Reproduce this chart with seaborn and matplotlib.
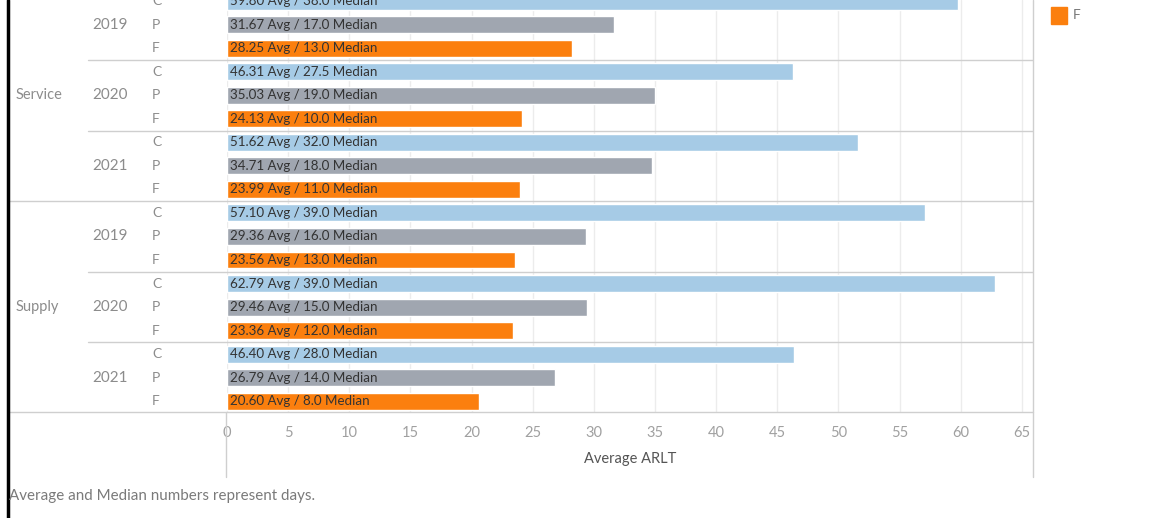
import matplotlib
matplotlib.use('Agg')
import matplotlib.pyplot as plt
import seaborn as sns
import pandas as pd
from matplotlib.lines import Line2D
from matplotlib.patches import Rectangle

# ---------------- data ----------------
categories = ['Service'] * 9 + ['Supply'] * 9
years = (['2019'] * 3 + ['2020'] * 3 + ['2021'] * 3) * 2
types = ['C', 'P', 'F'] * 6
avg_values = [59.80, 31.67, 28.25,
              46.31, 35.03, 24.13,
              51.62, 34.71, 23.99,
              57.10, 29.36, 23.56,
              62.79, 29.46, 23.36,
              46.40, 26.79, 20.60]
median_values = [38.0, 17.0, 13.0,
                 27.5, 19.0, 10.0,
                 32.0, 18.0, 11.0,
                 39.0, 16.0, 13.0,
                 39.0, 15.0, 12.0,
                 28.0, 14.0, 8.0]
type_order = ['C', 'P', 'F']
type_colors = {'C': '#a6cbe6', 'P': '#a0a6b0', 'F': '#fb7f0e'}
x_ticks = list(range(0, 70, 5))
x_title = 'Average ARLT'
legend_items = ['F']
footnote = 'Average and Median numbers represent days.'

df = pd.DataFrame({'category': categories, 'year': years, 'type': types,
                   'avg': avg_values, 'median': median_values})
df['row'] = df['category'] + '|' + df['year'] + '|' + df['type']
df['label'] = [f'{a:.2f} Avg / {m:.1f} Median' for a, m in zip(df['avg'], df['median'])]

# ---------------- figure ----------------
sns.set_theme(style='white')
FONT = ['Lato', 'DejaVu Sans']
plt.rcParams['font.family'] = FONT

W, H = 1156, 518
fig = plt.figure(figsize=(W / 100, H / 100), dpi=100, facecolor='white')


def fx(px):
    return px / W


def fy(py):
    return 1 - py / H


PANE_L, PANE_R, PANE_T, PANE_B = 227, 1033, 0, 412
ROW_H = 23.53
n_rows = len(df)
y_top = -0.05
y_bottom = y_top + (PANE_B - PANE_T) / ROW_H

ax = fig.add_axes([fx(PANE_L), fy(PANE_B), fx(PANE_R) - fx(PANE_L), fy(PANE_T) - fy(PANE_B)])
sns.barplot(data=df, y='row', x='avg', hue='type', order=list(df['row']),
            hue_order=type_order, palette=type_colors, dodge=False, width=0.72,
            saturation=1, legend=False, ax=ax, errorbar=None, orient='h')
ax.set_ylim(y_bottom, y_top)
ax.set_xlim(0, (PANE_R - PANE_L) / 12.23)
ax.set_xticks(x_ticks)
ax.set_yticks([])
ax.set_xlabel('')
ax.set_ylabel('')
ax.xaxis.grid(True, color='#ececec', lw=1)
ax.set_axisbelow(True)
for s in ax.spines.values():
    s.set_visible(False)
ax.tick_params(axis='x', length=0, pad=10, labelsize=10.5, labelcolor='#a0a0a0')
for t in ax.get_xticklabels():
    t.set_fontfamily(FONT)

# bar labels
for i, lab in enumerate(df['label']):
    ax.annotate(lab, xy=(0, i), xytext=(3, 0), textcoords='offset pixels',
                va='center', ha='left', fontsize=9.6, color='#333333')

# header axes (row labels)
axh = fig.add_axes([fx(8), fy(PANE_B), fx(PANE_L) - fx(8), fy(PANE_T) - fy(PANE_B)], sharey=ax)
axh.set_xlim(8, PANE_L)
axh.set_ylim(y_bottom, y_top)
axh.axis('off')

lab_color = '#8c8c8c'
for i, t in enumerate(df['type']):
    axh.text(152, i, t, va='center', ha='left', fontsize=10, color=lab_color)
# year labels at the middle row of each year group
for (cat, yr), g in df.groupby(['category', 'year'], sort=False):
    mid = g.index[len(g) // 2]
    axh.text(92, mid, yr, va='center', ha='left', fontsize=11, color=lab_color)
for cat, g in df.groupby('category', sort=False):
    mid = g.index[len(g) // 2]
    axh.text(16, mid, cat, va='center', ha='left', fontsize=10.5, color=lab_color)

# dividers
line_c = '#cfcfcf'
for i in range(n_rows - 1):
    if df['year'][i] != df['year'][i + 1] or df['category'][i] != df['category'][i + 1]:
        y = i + 0.5
        x0 = 8 if df['category'][i] != df['category'][i + 1] else 88
        axh.plot([x0, PANE_L], [y, y], color=line_c, lw=1, clip_on=False)
        ax.axhline(y, color=line_c, lw=1)
# bottom border
fig.add_artist(Line2D([fx(8), fx(PANE_R)], [fy(PANE_B), fy(PANE_B)], color=line_c, lw=1))
# vertical borders
fig.add_artist(Line2D([fx(PANE_L - 1), fx(PANE_L - 1)], [fy(PANE_B), fy(477)], color=line_c, lw=1))
fig.add_artist(Line2D([fx(PANE_R), fx(PANE_R)], [fy(0), fy(477)], color=line_c, lw=1))

# axis title
fig.text(fx((PANE_L + PANE_R) / 2), fy(459), x_title, ha='center', va='center',
         fontsize=10.5, color='#555555')

# legend fragment
for k, item in enumerate(legend_items):
    fig.add_artist(Rectangle((fx(1051), fy(24 + k * 20)), fx(16), fy(7) - fy(24),
                             color=type_colors[item], transform=fig.transFigure))
    fig.text(fx(1073), fy(15 + k * 20), item, ha='left', va='center', fontsize=10, color='#777777')

# footnote
fig.text(fx(9), fy(496), footnote, ha='left', va='center', fontsize=10.9, color='#7a7a7a')

# left black frame bar
fig.add_artist(Line2D([fx(7.5), fx(7.5)], [0, 1], color='black', lw=2.5))

fig.savefig('out.png', dpi=100, facecolor='white')
